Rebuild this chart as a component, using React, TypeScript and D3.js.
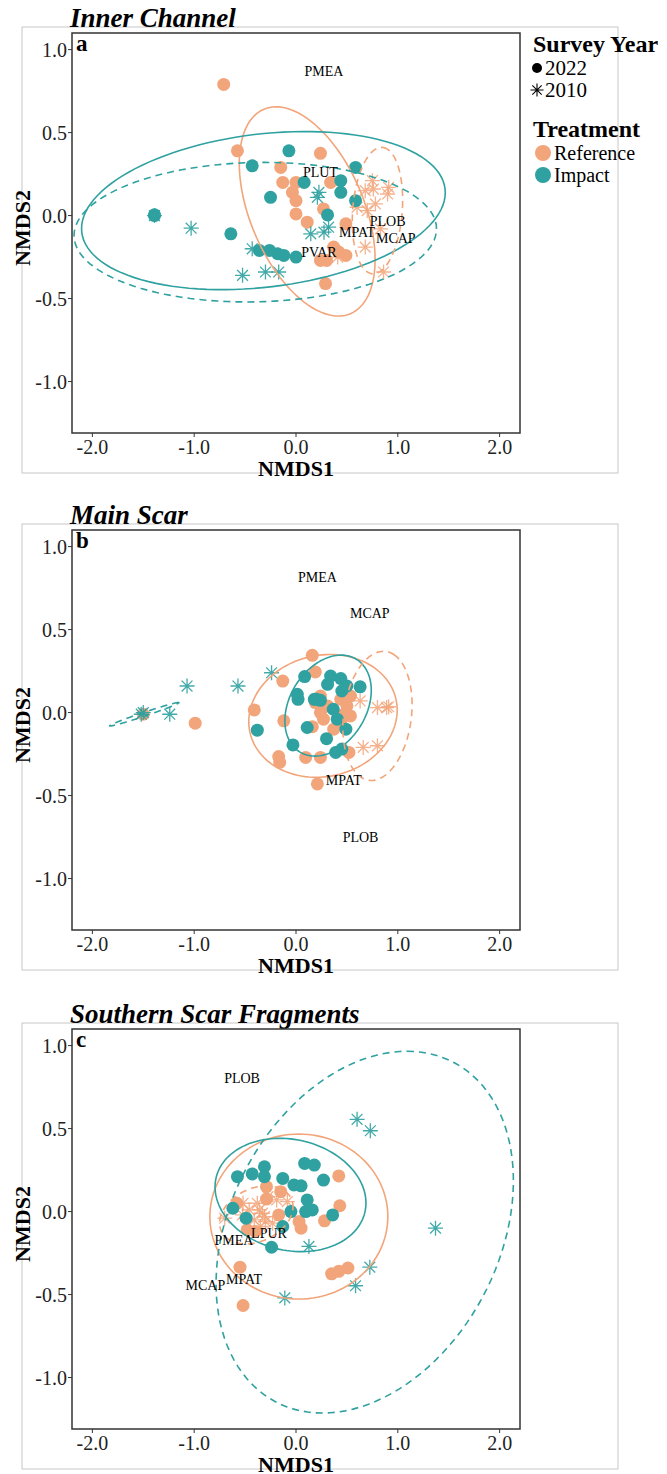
import React from 'react';
import * as d3 from 'd3';

type Pt = [number, number];
// ellipse: [cx, cy, ux, uy, vx, vy] -> centre + u*cos(t) + v*sin(t), data units
type Ell = [number, number, number, number, number, number];
type Lab = [string, number, number];

const REF = '#F2A57A';
const IMP = '#2FA1A0';
const FONT = '"Liberation Serif", "Times New Roman", serif';

const xTicks = [-2, -1, 0, 1, 2];
const yTicks = [-1, -0.5, 0, 0.5, 1];

// ---- a: Inner Channel
const aRef22: Pt[] = [
  [-0.71, 0.79], [-0.575, 0.39], [-0.15, 0.29], [0.24, 0.375], [-0.13, 0.2], [0.0, 0.2],
  [-0.035, 0.14], [0.0, 0.09], [0.0, 0.01], [0.11, -0.04], [0.27, 0.04], [0.34, 0.2],
  [0.49, -0.05], [0.37, -0.19], [0.49, -0.24], [0.24, -0.27], [0.3, -0.27], [0.29, -0.41], [0.42, -0.22],
];
const aImp22: Pt[] = [
  [-1.39, 0.0], [-1.39, 0.005], [-0.64, -0.11], [-0.43, 0.3], [-0.07, 0.39], [-0.25, 0.11],
  [0.08, 0.2], [0.44, 0.21], [0.44, 0.14], [0.585, 0.29], [0.585, 0.09], [0.31, 0.004],
  [-0.36, -0.21], [-0.26, -0.21], [-0.18, -0.23], [-0.12, -0.24], [0.0, -0.25],
];
const aRef10: Pt[] = [
  [0.75, 0.21], [0.91, 0.17], [0.68, 0.15], [0.76, 0.16], [0.9, 0.13], [0.78, 0.07],
  [0.6, 0.05], [0.7, 0.03], [0.83, -0.08], [0.68, -0.19], [0.86, -0.34], [0.41, -0.25],
];
const aImp10: Pt[] = [
  [-1.39, 0.0], [-1.03, -0.076], [-0.43, -0.2], [-0.525, -0.36], [-0.3, -0.34], [-0.17, -0.34],
  [0.225, 0.14], [0.21, 0.11], [0.145, -0.11], [0.275, -0.1], [0.32, -0.07],
];
const aEllRef22: Ell = [0.11, 0.025, 0.425, -0.616, 0.514, 0.134];
const aEllImp22: Ell = [-0.32, 0.03, 1.784, 0.131, -0.088, 0.458];
const aEllRef10: Ell = [0.8, 0.03, 0.06, 0.38, 0.24, -0.03];
const aEllImp10: Ell = [-0.4, -0.1, 1.78, 0.02, 0.0, 0.42];
const aLabels: Lab[] = [
  ['PMEA', 0.275, 0.87], ['PLUT', 0.24, 0.26], ['PLOB', 0.9, -0.036],
  ['MPAT', 0.6, -0.1], ['MCAP', 0.98, -0.14], ['PVAR', 0.225, -0.225],
];

// ---- b: Main Scar
const bRef22: Pt[] = [
  [0.16, 0.345], [0.19, 0.245], [-0.13, 0.19], [-0.41, 0.016], [-0.99, -0.064], [-0.12, -0.05],
  [0.16, -0.085], [-0.17, -0.265], [-0.16, -0.3], [0.095, -0.27], [0.24, -0.27], [0.52, -0.24],
  [0.21, -0.43], [0.24, 0.1], [0.31, 0.04], [0.44, 0.08], [0.5, 0.04], [0.535, -0.02],
  [0.37, -0.1], [0.44, -0.06], [0.24, 0.0], [0.27, -0.04], [0.535, 0.1], [0.19, 0.06],
  [0.47, -0.01], [-1.5, -0.01],
];
const bImp22: Pt[] = [
  [0.085, 0.217], [0.013, 0.11], [0.02, 0.08], [0.31, 0.17], [0.34, 0.22], [0.44, 0.205],
  [0.5, 0.16], [0.63, 0.155], [0.45, 0.13], [0.18, 0.08], [0.24, 0.074], [0.366, 0.02],
  [0.405, -0.04], [0.49, -0.1], [0.11, -0.09], [0.3, -0.157], [-0.03, -0.195], [-0.38, -0.106],
  [0.39, -0.24], [0.45, -0.22], [0.2, 0.08],
];
const bRef10: Pt[] = [[0.63, 0.07], [0.8, 0.03], [0.89, 0.03], [0.91, 0.035], [0.66, -0.21], [0.8, -0.2]];
const bImp10: Pt[] = [[-1.52, -0.01], [-1.5, 0.0], [-1.24, -0.01], [-1.07, 0.16], [-0.57, 0.16], [-0.24, 0.24]];
const bEllRef22: Ell = [0.265, -0.02, 0.727, 0.06, -0.05, 0.365];
const bEllImp22: Ell = [0.315, 0.042, 0.06, 0.3, 0.42, 0.05];
const bEllRef10: Ell = [0.8, -0.02, 0.16, 0.37, 0.3, -0.12];
const bEllImp10: Ell = [-1.49, -0.01, 0.34, 0.07, 0.0, 0.012];
const bLabels: Lab[] = [['PMEA', 0.21, 0.813], ['MCAP', 0.725, 0.596], ['MPAT', 0.47, -0.41], ['PLOB', 0.634, -0.75]];

// ---- c: Southern Scar Fragments
const cRef22: Pt[] = [
  [0.42, 0.215], [0.43, 0.035], [0.28, -0.056], [0.03, -0.06], [0.05, -0.1], [-0.17, -0.02],
  [-0.15, 0.12], [-0.29, 0.15], [-0.29, 0.075], [-0.58, 0.05], [-0.48, -0.11], [-0.55, -0.335],
  [-0.52, -0.566], [0.35, -0.375], [0.42, -0.36], [0.51, -0.34], [-0.4, -0.12],
];
const cImp22: Pt[] = [
  [-0.575, 0.21], [-0.43, 0.227], [-0.31, 0.27], [-0.31, 0.21], [-0.13, 0.2], [-0.02, 0.16],
  [0.05, 0.155], [0.085, 0.29], [0.18, 0.28], [0.27, 0.19], [0.11, 0.07], [0.16, 0.01],
  [0.095, 0.0], [-0.05, 0.0], [0.36, -0.02], [-0.62, 0.02], [-0.49, -0.04], [-0.13, -0.09], [-0.24, -0.215],
];
const cRef10: Pt[] = [
  [-0.7, -0.04], [-0.52, 0.05], [-0.525, -0.02], [-0.38, 0.05], [-0.36, 0.01], [-0.33, -0.01],
  [-0.31, -0.03], [-0.41, -0.05], [-0.275, 0.09], [-0.085, 0.06], [-0.19, 0.07], [-0.23, -0.07],
  [-0.35, -0.09], [-0.46, 0.01], [-0.3, -0.06],
];
const cImp10: Pt[] = [
  [0.6, 0.556], [0.73, 0.487], [1.37, -0.1], [0.127, -0.21], [0.725, -0.335], [0.585, -0.447], [-0.11, -0.52],
];
const cEllRef22: Ell = [0.028, -0.03, 0.874, 0.0, 0.0, 0.497];
const cEllImp22: Ell = [-0.054, 0.1, 0.74, -0.03, -0.04, 0.34];
const cEllRef10: Ell = [-0.39, -0.02, 0.36, 0.04, 0.02, 0.17];
const cEllImp10: Ell = [0.675, -0.124, 0.415, 1.09, 1.4, 0.0];
const cLabels: Lab[] = [
  ['PLOB', -0.53, 0.8], ['PMEA', -0.61, -0.175], ['LPUR', -0.265, -0.13], ['MCAP', -0.89, -0.447], ['MPAT', -0.51, -0.41],
];

const panels = [
  { id: 'a', title: 'Inner Channel', top: 33, ref22: aRef22, imp22: aImp22, ref10: aRef10, imp10: aImp10,
    ells: [aEllRef22, aEllImp22, aEllRef10, aEllImp10], labels: aLabels },
  { id: 'b', title: 'Main Scar', top: 530, ref22: bRef22, imp22: bImp22, ref10: bRef10, imp10: bImp10,
    ells: [bEllRef22, bEllImp22, bEllRef10, bEllImp10], labels: bLabels },
  { id: 'c', title: 'Southern Scar Fragments', top: 1029, ref22: cRef22, imp22: cImp22, ref10: cRef10, imp10: cImp10,
    ells: [cEllRef22, cEllImp22, cEllRef10, cEllImp10], labels: cLabels },
];

const X0 = 72, X1 = 520, PH = 400;

const starPath = (cx: number, cy: number, r = 7.5) => {
  const d = r * 0.72;
  return `M${cx - r},${cy}H${cx + r}M${cx},${cy - r}V${cy + r}` +
    `M${cx - d},${cy - d}L${cx + d},${cy + d}M${cx - d},${cy + d}L${cx + d},${cy - d}`;
};

const Panel = ({ p }: { p: typeof panels[number] }) => {
  const x = d3.scaleLinear().domain([-2.2, 2.2]).range([X0, X1]);
  const y = d3.scaleLinear().domain([-1.31, 1.1]).range([p.top + PH, p.top]);
  const line = d3.line().curve(d3.curveLinearClosed);
  const ellPath = (e: Ell) =>
    line(d3.range(0, 360, 3).map(deg => {
      const t = (deg * Math.PI) / 180;
      return [x(e[0] + e[2] * Math.cos(t) + e[4] * Math.sin(t)), y(e[1] + e[3] * Math.cos(t) + e[5] * Math.sin(t))] as [number, number];
    })) || '';
  const ellStyle = [
    { c: REF, dash: undefined }, { c: IMP, dash: undefined },
    { c: REF, dash: '7,5' }, { c: IMP, dash: '7,5' },
  ];
  const clipId = `clip-${p.id}`;
  return (
    <g>
      {/* outer light frame */}
      <rect x={22} y={p.top - 6} width={596} height={446} fill="none" stroke="#c8c8c8" strokeWidth={1} />
      <text x={70} y={p.top - 6} fontFamily={FONT} fontWeight="bold" fontStyle="italic" fontSize={27}>{p.title}</text>
      <clipPath id={clipId}><rect x={X0} y={p.top} width={X1 - X0} height={PH} /></clipPath>
      <rect x={X0} y={p.top} width={X1 - X0} height={PH} fill="white" />
      <g clipPath={`url(#${clipId})`}>
        {p.ref22.map((d, i) => <circle key={'r' + i} cx={x(d[0])} cy={y(d[1])} r={6.5} fill={REF} />)}
        {p.ref10.map((d, i) => <path key={'rs' + i} d={starPath(x(d[0]), y(d[1]))} stroke={REF} strokeWidth={1.3} opacity={0.85} fill="none" />)}
        {p.imp22.map((d, i) => <circle key={'i' + i} cx={x(d[0])} cy={y(d[1])} r={6.5} fill={IMP} />)}
        {p.imp10.map((d, i) => <path key={'is' + i} d={starPath(x(d[0]), y(d[1]))} stroke={IMP} strokeWidth={1.3} opacity={0.9} fill="none" />)}
        {p.ells.map((e, i) => (
          <path key={'e' + i} d={ellPath(e)} fill="none" stroke={ellStyle[i].c} strokeWidth={1.6} strokeDasharray={ellStyle[i].dash} />
        ))}
        {p.labels.map(([t, lx, ly]) => (
          <text key={t} x={x(lx)} y={y(ly)} textAnchor="middle" dominantBaseline="central" fontFamily={FONT} fontSize={14}>{t}</text>
        ))}
      </g>
      <rect x={X0} y={p.top} width={X1 - X0} height={PH} fill="none" stroke="#333" strokeWidth={1.5} />
      <text x={X0 + 4} y={p.top + 18} fontFamily={FONT} fontWeight="bold" fontSize={23}>{p.id}</text>
      {xTicks.map(t => (
        <g key={'x' + t}>
          <line x1={x(t)} x2={x(t)} y1={p.top + PH} y2={p.top + PH + 4} stroke="#333" />
          <text x={x(t)} y={p.top + PH + 21} textAnchor="middle" fontFamily={FONT} fontSize={20} fill="#222">{t.toFixed(1)}</text>
        </g>
      ))}
      {yTicks.map(t => (
        <g key={'y' + t}>
          <line x1={X0 - 4} x2={X0} y1={y(t)} y2={y(t)} stroke="#333" />
          <text x={X0 - 5} y={y(t)} textAnchor="end" dominantBaseline="central" fontFamily={FONT} fontSize={20} fill="#222">{t.toFixed(1)}</text>
        </g>
      ))}
      <text x={(X0 + X1) / 2} y={p.top + PH + 43} textAnchor="middle" fontFamily={FONT} fontWeight="bold" fontSize={22}>NMDS1</text>
      <text transform={`translate(30,${p.top + PH / 2 - 5}) rotate(-90)`} textAnchor="middle" fontFamily={FONT} fontWeight="bold" fontSize={22}>NMDS2</text>
    </g>
  );
};

const Legend = () => (
  <g fontFamily={FONT}>
    <text x={533} y={52} fontWeight="bold" fontSize={24}>Survey Year</text>
    <circle cx={537} cy={68} r={5} fill="#000" />
    <text x={545} y={75} fontSize={21}>2022</text>
    <path d={starPath(537, 90, 6.5)} stroke="#000" strokeWidth={1.1} fill="none" />
    <text x={545} y={97} fontSize={21}>2010</text>
    <text x={533} y={137} fontWeight="bold" fontSize={24}>Treatment</text>
    <circle cx={543} cy={153} r={8} fill={REF} />
    <text x={554} y={160} fontSize={20}>Reference</text>
    <circle cx={543} cy={175} r={8} fill={IMP} />
    <text x={554} y={182} fontSize={20}>Impact</text>
  </g>
);

export default function App() {
  return (
    <svg width={667} height={1474} style={{ position: 'absolute', left: 0, top: 0, background: 'white' }}>
      {panels.map(p => <Panel key={p.id} p={p} />)}
      <Legend />
    </svg>
  );
}
